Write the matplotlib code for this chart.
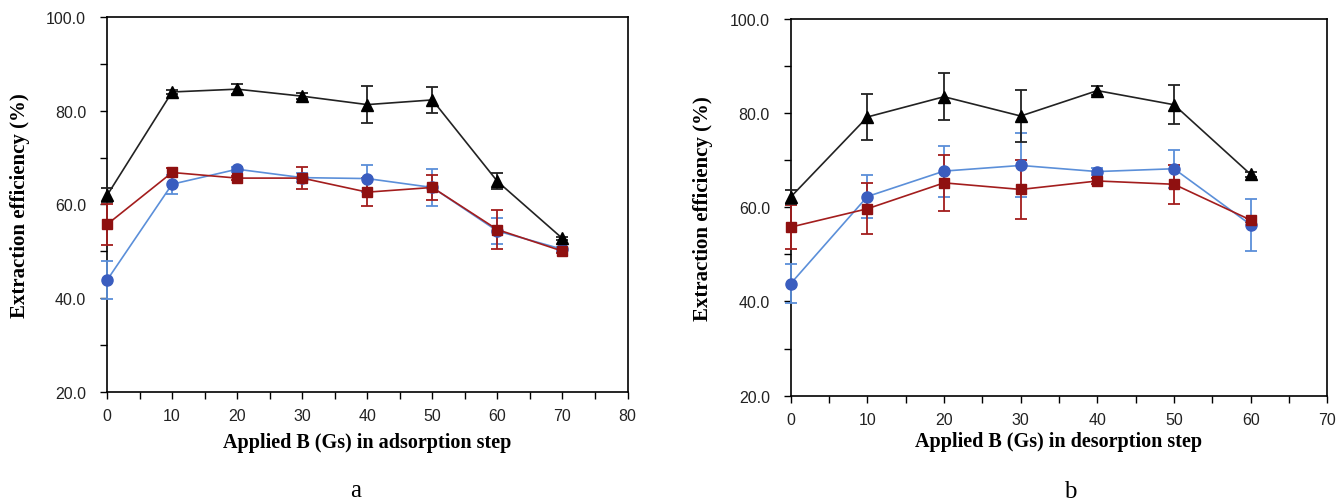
import matplotlib
matplotlib.use('Agg')
from matplotlib import pyplot as plt
from matplotlib.ticker import MultipleLocator, FormatStrFormatter

plt.rcParams['font.family'] = ['Liberation Serif', 'DejaVu Serif']

# panel a: adsorption step
b_ads = [0, 10, 20, 30, 40, 50, 60, 70]
ads_black = [61.9, 84.0, 84.6, 83.1, 81.3, 82.3, 64.9, 52.7]
ads_black_err = [1.5, 0.5, 1.0, 0.7, 3.9, 2.8, 1.7, 0.3]
ads_blue = [43.8, 64.3, 67.5, 65.7, 65.5, 63.6, 54.3, 50.4]
ads_blue_err = [4.0, 2.0, 0.5, 1.0, 2.8, 3.9, 2.8, 0.5]
ads_red = [55.7, 66.8, 65.6, 65.6, 62.6, 63.6, 54.6, 50.0]
ads_red_err = [4.3, 1.0, 0.5, 2.3, 3.0, 2.7, 4.2, 0.5]

# panel b: desorption step
b_des = [0, 10, 20, 30, 40, 50, 60]
des_black = [62.2, 79.2, 83.5, 79.4, 84.8, 81.8, 67.0]
des_black_err = [1.5, 4.9, 5.0, 5.5, 1.0, 4.1, 0.5]
des_blue = [43.8, 62.3, 67.7, 68.9, 67.6, 68.2, 56.3]
des_blue_err = [4.1, 4.5, 5.4, 6.8, 0.7, 4.0, 5.5]
des_red = [55.8, 59.7, 65.2, 63.8, 65.6, 64.9, 57.3]
des_red_err = [4.6, 5.4, 5.9, 6.3, 0.7, 4.1, 0.5]


def draw_series(ax, x, y, err, line_col, mark_col, marker, ms):
    """ рисует одну серию с погрешностями """
    cont = ax.errorbar(x, y, yerr=err, color=line_col, ecolor=line_col, elinewidth=1.3,
                       capsize=4, capthick=1.3, lw=1.2, marker=marker, ms=ms,
                       mfc=mark_col, mec=mark_col, zorder=3)
    # точки на оси не обрезаем
    for art in cont.get_children():
        art.set_clip_on(False)


def style_axes(ax, xmax, xlabel, xl_y, yl_x):
    ax.set_xlim(0, xmax)
    ax.set_ylim(20, 100)
    ax.xaxis.set_major_locator(MultipleLocator(10))
    ax.xaxis.set_minor_locator(MultipleLocator(5))
    ax.yaxis.set_major_locator(MultipleLocator(20))
    ax.yaxis.set_minor_locator(MultipleLocator(10))
    ax.yaxis.set_major_formatter(FormatStrFormatter('%.1f'))
    ax.tick_params(which='both', direction='out', width=1, length=5)
    ax.tick_params(axis='y', which='major', pad=10)
    ax.tick_params(axis='x', which='major', pad=7)
    for lab in ax.get_xticklabels() + ax.get_yticklabels():
        lab.set_fontfamily('Liberation Sans')
        lab.set_fontsize(11.5)
        lab.set_color('#222222')
    for s in ax.spines.values():
        s.set_linewidth(1.2)
    ax.set_xlabel(xlabel, fontsize=14.5, fontweight='bold', va='center')
    ax.set_ylabel('Extraction efficiency (%)', fontsize=15, fontweight='bold', va='center')
    ax.xaxis.set_label_coords(0.5, xl_y)
    ax.yaxis.set_label_coords(yl_x, 0.5)


fig = plt.figure(figsize=(13.38, 5.02), dpi=100)
ax1 = fig.add_axes([0.080, 0.218, 0.389, 0.746])
ax2 = fig.add_axes([0.591, 0.210, 0.401, 0.750])

for ax, x, data in [
    (ax1, b_ads, [(ads_blue, ads_blue_err), (ads_red, ads_red_err), (ads_black, ads_black_err)]),
    (ax2, b_des, [(des_blue, des_blue_err), (des_red, des_red_err), (des_black, des_black_err)]),
]:
    draw_series(ax, x, data[0][0], data[0][1], '#5b8fd9', '#3a5dbf', 'o', 8)
    draw_series(ax, x, data[1][0], data[1][1], '#a31d1d', '#8f1010', 's', 7)
    draw_series(ax, x, data[2][0], data[2][1], '#222222', '#000000', '^', 8)

style_axes(ax1, 80, 'Applied B (Gs) in adsorption step', -0.136, -0.167)
style_axes(ax2, 70, 'Applied B (Gs) in desorption step', -0.12, -0.164)

fig.text(0.266, 0.022, 'a', fontsize=18, ha='center', va='center')
fig.text(0.800, 0.020, 'b', fontsize=18, ha='center', va='center')

fig.savefig('out.png', dpi=100)
